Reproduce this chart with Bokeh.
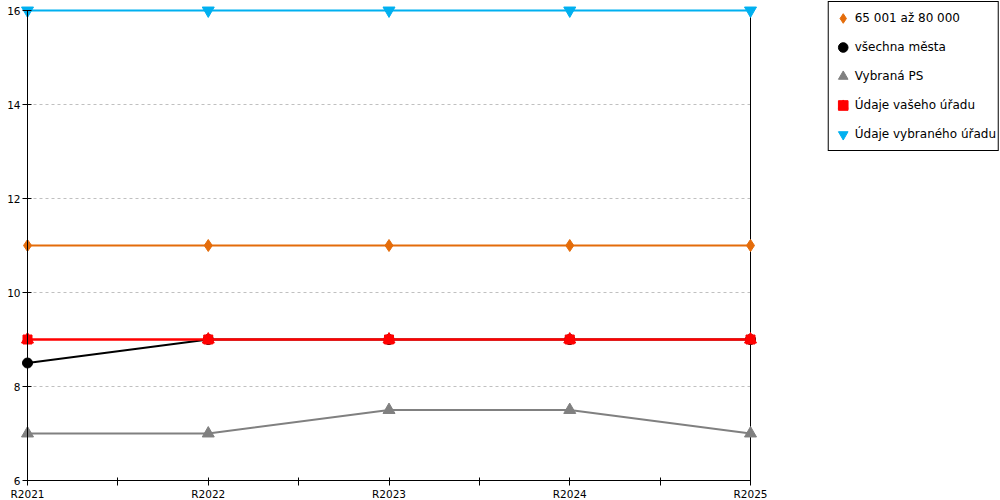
from bokeh.plotting import figure
from bokeh.models import FixedTicker, Legend, LegendItem
from bokeh.embed import file_html
from bokeh.resources import INLINE

years = ["R2021", "R2022", "R2023", "R2024", "R2025"]
skupina = [11, 11, 11, 11, 11]          # 65 001 až 80 000
vsechna_mesta = [8.5, 9, 9, 9, 9]
vybrana_ps = [7, 7, 7.5, 7.5, 7]
vas_urad = [9, 9, 9, 9, 9]
vybrany_urad = [16, 16, 16, 16, 16]
y_ticks = [6, 8, 10, 12, 14, 16]

xs = list(range(len(years)))
last = len(years) - 1
FONT = "DejaVu Sans"

# frame zabírá celé plátno, aby se značky, popisky ani legenda neořezávaly
W, H = 1000, 500
X0, X1, Y0, Y1 = 27, 750, 10, 480      # kde leží data v pixelech
px_x = (X1 - X0) / last
px_y = (Y1 - Y0) / (y_ticks[-1] - y_ticks[0])
x_range = (-X0 / px_x, last + (W - X1) / px_x)
y_range = (y_ticks[0] - (H - Y1) / px_y, y_ticks[-1] + Y0 / px_y)

p = figure(width=W, height=H, x_range=x_range, y_range=y_range,
           output_backend="svg", toolbar_location=None, tools="",
           min_border=0)
p.outline_line_color = None
p.background_fill_color = "white"
p.xgrid.grid_line_color = None
p.ygrid.grid_line_color = None

# mřížka jen v oblasti dat
grid_y = y_ticks[1:-1]
p.segment(x0=[0] * len(grid_y), x1=[last] * len(grid_y), y0=grid_y, y1=grid_y,
          line_color="#c0c0c0", line_width=1, line_dash="3 3")

# osy
p.xaxis.fixed_location = y_ticks[0]
p.yaxis.fixed_location = 0
p.xaxis.bounds = (0, last)
p.yaxis.bounds = (y_ticks[0], y_ticks[-1])
p.xaxis.ticker = FixedTicker(ticks=xs, minor_ticks=[x + 0.5 for x in xs[:-1]])
p.xaxis.major_label_overrides = {i: y for i, y in enumerate(years)}
p.yaxis.ticker = FixedTicker(ticks=y_ticks, minor_ticks=[])
for ax in (p.xaxis, p.yaxis):
    ax.axis_line_color = "black"
    ax.major_tick_line_color = "black"
    ax.minor_tick_line_color = "black"
    ax.major_tick_in = 3
    ax.major_tick_out = 5
    ax.minor_tick_in = 3
    ax.minor_tick_out = 5
    ax.major_label_text_font = FONT
    ax.major_label_text_font_size = "10.5px"
    ax.major_label_text_color = "black"
    ax.major_label_standoff = 2
p.yaxis.major_tick_in = 4

# pravý okraj grafu
p.line([last, last], [y_ticks[0], y_ticks[-1]], line_width=1, color="black")

items = []

p.line(xs, skupina, line_width=2, color="#E46C0A")
r1 = p.scatter(xs, skupina, marker="diamond", size=12, color="#E46C0A")
items.append(LegendItem(label="65 001 až 80 000", renderers=[r1]))

p.line(xs, vsechna_mesta, line_width=2, color="black")
r2 = p.scatter(xs, vsechna_mesta, marker="circle", size=10, color="black")
items.append(LegendItem(label="všechna města", renderers=[r2]))

p.line(xs, vybrana_ps, line_width=2, color="#808080")
r3 = p.scatter(xs, vybrana_ps, marker="triangle", size=12, color="#808080")
items.append(LegendItem(label="Vybraná PS", renderers=[r3]))

p.line(xs, vas_urad, line_width=2.5, color="red")
r4a = p.scatter(xs, vas_urad, marker="square", size=9, color="red")
r4b = p.scatter(xs, vas_urad, marker="triangle", size=12, color="red")
items.append(LegendItem(label="Údaje vašeho úřadu", renderers=[r4a, r4b]))

p.line(xs, vybrany_urad, line_width=2, color="#00B0F0")
r5 = p.scatter(xs, vybrany_urad, marker="inverted_triangle", size=12, color="#00B0F0")
items.append(LegendItem(label="Údaje vybraného úřadu", renderers=[r5]))

legend = Legend(items=items, location="top_right")
legend.border_line_color = "black"
legend.border_line_alpha = 1
legend.border_line_width = 1
legend.background_fill_color = "white"
legend.background_fill_alpha = 1
legend.padding = 2
legend.spacing = 1
legend.glyph_width = 24
legend.glyph_height = 28
legend.label_standoff = 0
legend.label_text_font = FONT
legend.label_text_font_size = "12px"
legend.label_text_color = "black"
legend.label_text_baseline = "middle"
legend.margin = 1
p.add_layout(legend, "center")

open("out.html", "w").write(file_html(p, INLINE))
